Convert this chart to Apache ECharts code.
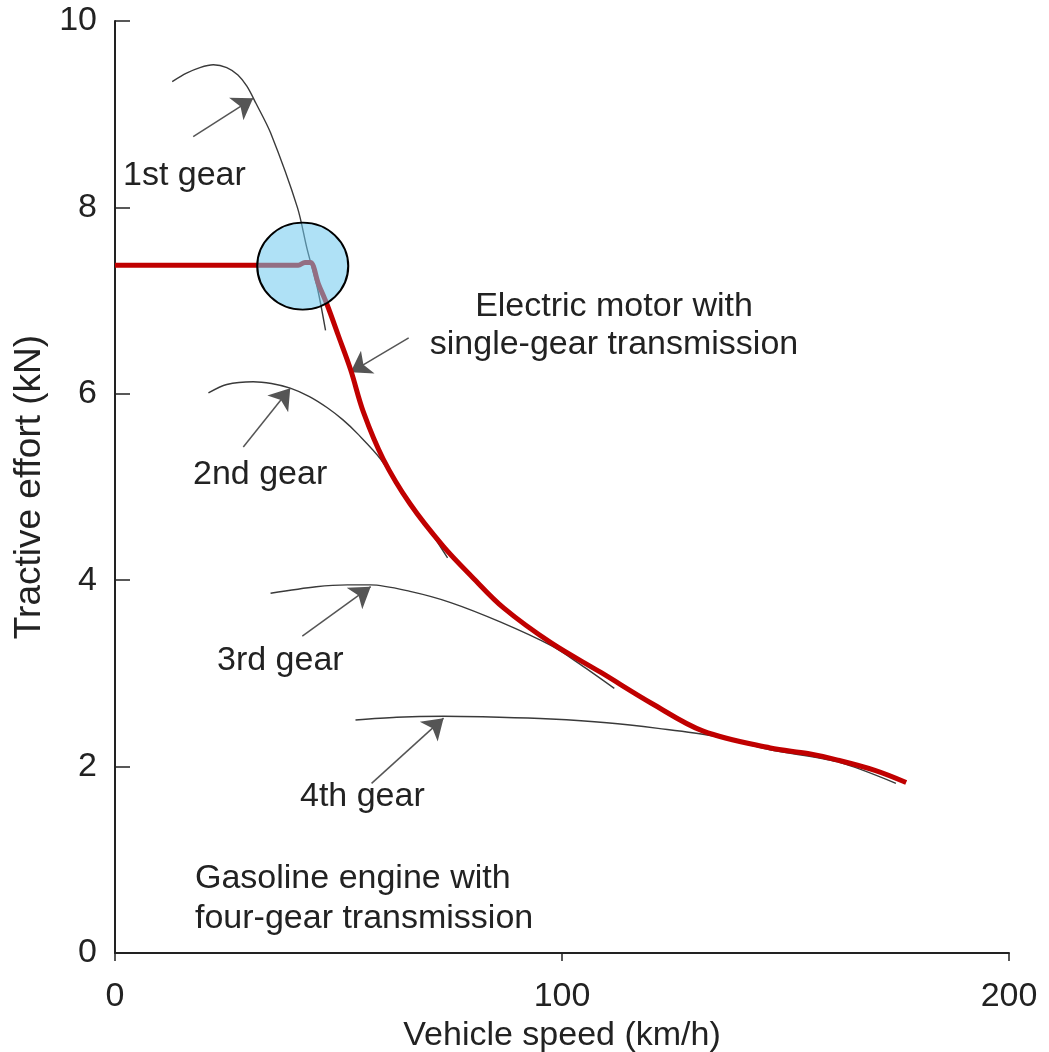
<!DOCTYPE html>
<html><head><meta charset="utf-8">
<script src="https://cdn.jsdelivr.net/npm/echarts@6/dist/echarts.min.js"></script>
<style>html,body{margin:0;padding:0;background:#fff}#c{width:1049px;height:1052px}</style>
</head><body><div id="c"></div>
<script>
// ---- data (speed km/h, tractive effort kN) ----
const xTickStep = 100;
const yTickStep = 2;
const electricMotor = [
  [0,7.38],[41,7.38],[42.5,7.41],[43.7,7.41],[45.5,7.18],[47.5,6.95],[50,6.62],[52.7,6.26],
  [55.6,5.80],[60,5.30],[66,4.82],[73.5,4.36],[80,4.03],[87,3.70],
  [97.5,3.33],[108.7,3.01],[120,2.68],[131.6,2.38],[146.6,2.20],[155,2.14],[161.7,2.07],
  [170,1.96],[177,1.83]
];
const gear1 = [[12.8,9.35],[16,9.44],[19,9.50],[22,9.53],[25,9.50],[27.5,9.42],[29.5,9.30],[31.5,9.12],
  [34.8,8.80],[40.8,8.00],[43,7.55],[45.3,7.13],[47.1,6.68]];
const gear2 = [[20.9,6.01],[25,6.10],[30.9,6.13],[35,6.11],[39.2,6.06],[43.5,5.97],[47.5,5.85],
  [51,5.72],[54.3,5.57],[59.4,5.30],[66,4.81],[70,4.56],[74.4,4.24]];
const gear3 = [[34.8,3.86],[45,3.93],[52,3.95],[57.2,3.95],[66,3.88],[75.1,3.76],[86.3,3.55],[97.5,3.30],
  [104,3.10],[111.7,2.84]];
const gear4 = [[53.8,2.50],[63,2.53],[73.5,2.54],[86,2.53],[97.5,2.51],[110,2.47],[121.5,2.41],
  [133.6,2.33],[146.6,2.18],[161.7,2.05],[174.7,1.82]];
const arrowFrom = [[17.5,8.76],[28.7,5.43],[41.9,3.40],[57.4,1.82],[65.7,6.60]];
const arrowTo   = [[30.9,9.17],[39.2,6.06],[57.2,3.93],[73.5,2.52],[52.7,6.23]];
const highlightPoint = [42.0,7.37];
const labels = {
  g1:'1st gear', g2:'2nd gear', g3:'3rd gear', g4:'4th gear',
  em:'Electric motor with\nsingle-gear transmission',
  ge:'Gasoline engine with\nfour-gear transmission'
};

const FONT = '"Liberation Sans", Arial, Helvetica, sans-serif';
const TXT = '#222';
const chart = echarts.init(document.getElementById('c'), null, {renderer:'canvas'});
const gearStyle = {color:'#3a3a3a', width:1.4};
function gearSeries(d){
  return {type:'line', data:d, smooth:0.3, showSymbol:false, symbol:'none',
    lineStyle:gearStyle, z:2, silent:true};
}
chart.setOption({
  animation:false,
  backgroundColor:'#fff',
  grid:{left:115, right:40, top:21, bottom:99, containLabel:false, outerBoundsMode:'none'},
  xAxis:{type:'value', min:0, max:200, interval:xTickStep,
    name:'Vehicle speed (km/h)', nameLocation:'middle', nameGap:53,
    nameTextStyle:{fontSize:34, color:TXT, fontFamily:FONT},
    axisLine:{show:true, lineStyle:{color:'#222', width:2}},
    axisTick:{show:true, inside:false, length:8, lineStyle:{color:'#222', width:1.5}},
    axisLabel:{fontSize:34, color:TXT, fontFamily:FONT, margin:27},
    splitLine:{show:false}},
  yAxis:{type:'value', min:0, max:10, interval:yTickStep,
    name:'Tractive effort (kN)', nameLocation:'middle', nameGap:62,
    nameTextStyle:{fontSize:37, color:TXT, fontFamily:FONT},
    axisLine:{show:true, lineStyle:{color:'#222', width:2}},
    axisTick:{show:true, inside:true, length:15, lineStyle:{color:'#222', width:1.5}},
    axisLabel:{fontSize:34, color:TXT, fontFamily:FONT, margin:18},
    splitLine:{show:false}},
  series:[
    gearSeries(gear1), gearSeries(gear2), gearSeries(gear3), gearSeries(gear4),
    {type:'line', data:electricMotor, smooth:0.35, showSymbol:false, symbol:'none',
      lineStyle:{color:'#c00000', width:5}, z:3, silent:true},
    {type:'lines', coordinateSystem:'cartesian2d', z:3,
      data:arrowFrom.map((f,i)=>({coords:[f, arrowTo[i]]})),
      symbol:['none','arrow'], symbolSize:[0,20],
      lineStyle:{color:'#555', width:1.5, opacity:1}},
    {type:'scatter', data:[highlightPoint], symbol:'circle', symbolSize:[91,87], z:5,
      itemStyle:{color:'rgba(110,200,238,0.55)', borderColor:'#000', borderWidth:2, opacity:1},
      silent:true}
  ],
  graphic:[
    {type:'text', x:123, y:176, style:{text:labels.g1, font:'34px '+FONT, fill:TXT, textVerticalAlign:'middle'}},
    {type:'text', x:193, y:475, style:{text:labels.g2, font:'34px '+FONT, fill:TXT, textVerticalAlign:'middle'}},
    {type:'text', x:217, y:661, style:{text:labels.g3, font:'34px '+FONT, fill:TXT, textVerticalAlign:'middle'}},
    {type:'text', x:300, y:797, style:{text:labels.g4, font:'34px '+FONT, fill:TXT, textVerticalAlign:'middle'}},
    {type:'text', x:614, y:326, style:{text:labels.em, font:'34px '+FONT, fill:TXT, textAlign:'center', textVerticalAlign:'middle', lineHeight:38}},
    {type:'text', x:195, y:899, style:{text:labels.ge, font:'34px '+FONT, fill:TXT, textVerticalAlign:'middle', lineHeight:40}}
  ]
});
</script></body></html>
